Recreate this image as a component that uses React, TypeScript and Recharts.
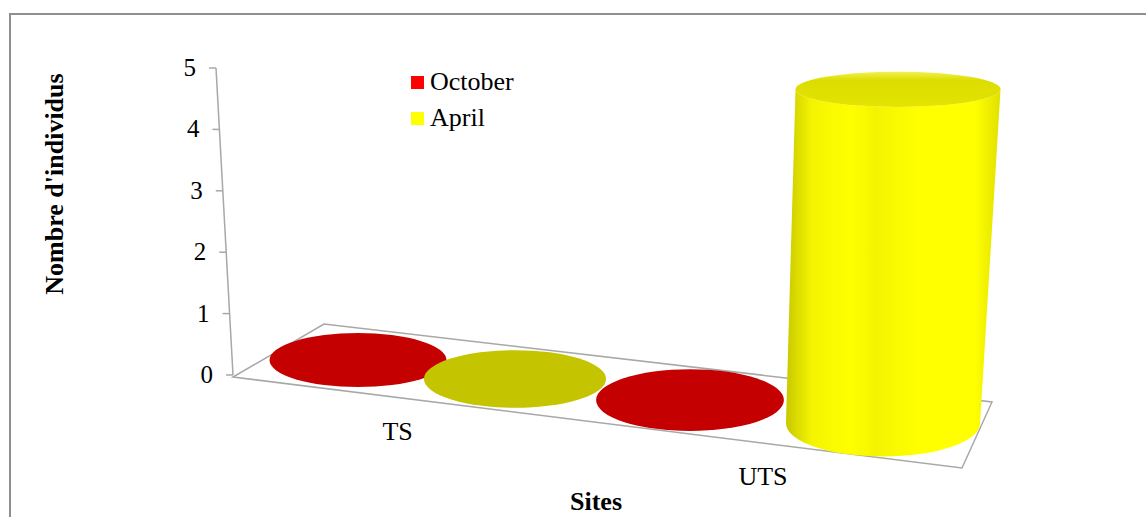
import { Bar, BarChart, Legend, XAxis, YAxis } from 'recharts'

const sites = ['TS', 'UTS']
const october = [0, 0]
const april = [0, 5]
const seriesNames = ['October', 'April'] as const
const yTicks = [0, 1, 2, 3, 4, 5]

const data = sites.map((site, i) => ({ site, October: october[i], April: april[i] }))

const Y_MAX = yTicks[yTicks.length - 1]
const FONT = '"Liberation Serif", "Times New Roman", serif'
const GRID = '#a8a8a8'

type Series = (typeof seriesNames)[number]

const COLORS: Record<Series, { legend: string; disc: string; body: string[]; top: string }> = {
  October: { legend: '#ff0000', disc: '#c40000', body: ['#a00000', '#e00000', '#c80000', '#a80000'], top: '#d00000' },
  April: { legend: '#ffff00', disc: '#c4c400', body: ['#c8c800', '#f4f400', '#ffff00', '#e0e000'], top: '#dcdc00' },
}

// fake 3D projection, tuned by eye
const FIRST_CENTER = 358
const BAR_STEP = 148
const FLOOR_LEFT = 233
const AXIS_LEAN = 17
const HEIGHT_GAIN = 1.088
const midY = (sx: number) => 345 + 0.1205 * (sx - FLOOR_LEFT)
const frontY = (sx: number) => 377 + 0.125 * (sx - FLOOR_LEFT)
const frontShift = (sx: number) => 45.5 - 0.044 * (sx - FLOOR_LEFT)
const spread = (cx: number) => {
  const t = (cx - FIRST_CENTER) / BAR_STEP
  return cx + 9 * t * t
}
// floor corners relative to the foot of the value axis
const FLOOR = [
  [0, 2],
  [91, -51],
  [759, 27],
  [729, 93],
]

interface Box {
  x: number
  y: number
  width: number
  height: number
}

function Frame({ bg }: { bg?: Box }) {
  const top = bg?.y ?? 68
  const bottom = top + (bg?.height ?? 307)
  const pts = FLOOR.map(([dx, dy]) => `${FLOOR_LEFT + dx},${bottom + dy}`).join(' ')
  return (
    <g>
      <polygon points={pts} fill="none" stroke={GRID} strokeWidth={1.5} />
      <line x1={FLOOR_LEFT} y1={bottom} x2={FLOOR_LEFT - AXIS_LEAN} y2={top} stroke={GRID} strokeWidth={1.5} />
    </g>
  )
}

interface CylProps {
  x?: number
  width?: number
  height?: number
  index?: number
  background?: Box
  series: Series
}

function Cylinder({ x = 0, width = 0, height = 0, index = 0, background, series }: CylProps) {
  const c = COLORS[series]
  const sx = spread(x + width / 2)
  const baseY = midY(sx)
  const rx = 88.5 + 0.0163 * (sx - FIRST_CENTER)
  const ry = 27 + 0.0117 * (sx - FIRST_CENTER)
  const h = Math.abs(height) * HEIGHT_GAIN
  const frame = series === 'October' && index === 0 ? <Frame bg={background} /> : null

  if (h < 1) {
    return (
      <g>
        {frame}
        <ellipse cx={sx} cy={baseY} rx={rx} ry={ry} fill={c.disc} />
      </g>
    )
  }

  const topX = sx + 0.045 * h
  const topY = baseY - h
  const rxTop = rx * (1 + 0.000168 * h)
  const ryTop = Math.max(ry * (1 - 0.0014 * h), 4)
  const id = `cyl-${series}-${index}`
  const body = [
    `M${topX - rxTop},${topY}`,
    `L${sx - rx},${baseY}`,
    `A${rx},${ry} 0 0 0 ${sx + rx},${baseY}`,
    `L${topX + rxTop},${topY}`,
    `A${rxTop},${ryTop} 0 0 1 ${topX - rxTop},${topY}`,
    'Z',
  ].join(' ')

  return (
    <g>
      {frame}
      <defs>
        <linearGradient id={`${id}-body`} x1="0" y1="0" x2="1" y2="0">
          <stop offset="0" stopColor={c.body[0]} />
          <stop offset="0.12" stopColor={c.body[1]} />
          <stop offset="0.3" stopColor={c.body[2]} />
          <stop offset="0.42" stopColor={c.body[1]} />
          <stop offset="0.62" stopColor={c.body[2]} />
          <stop offset="0.88" stopColor={c.body[2]} />
          <stop offset="1" stopColor={c.body[3]} />
        </linearGradient>
        <linearGradient id={`${id}-top`} x1="0" y1="0" x2="0" y2="1">
          <stop offset="0" stopColor="#f2f250" />
          <stop offset="0.25" stopColor={c.top} />
          <stop offset="1" stopColor="#e4e400" />
        </linearGradient>
      </defs>
      <path d={body} fill={`url(#${id}-body)`} />
      <ellipse cx={topX} cy={topY} rx={rxTop} ry={ryTop} fill={`url(#${id}-top)`} />
    </g>
  )
}

function YTick({ x = 0, y = 0, payload }: { x?: number; y?: number; payload?: { value: number } }) {
  const v = Number(payload?.value ?? 0)
  const ax = x + 1 - (AXIS_LEAN * v) / Y_MAX
  return (
    <g>
      <line x1={ax - 7} y1={y} x2={ax} y2={y} stroke={GRID} strokeWidth={1.5} />
      <text x={ax - 20} y={y + 8} textAnchor="end" fontSize={25} fontFamily={FONT} fill="#000">
        {v}
      </text>
    </g>
  )
}

function XTick({ x = 0, payload }: { x?: number; payload?: { value: string } }) {
  const sx = spread(x)
  const lx = sx - frontShift(sx)
  return (
    <text x={lx} y={frontY(lx) + 42} textAnchor="middle" fontSize={26} fontFamily={FONT} fill="#000">
      {payload?.value}
    </text>
  )
}

function LegendBox() {
  return (
    <div style={{ fontFamily: FONT, fontSize: 26, color: '#000' }}>
      {seriesNames.map((name) => (
        <div key={name} style={{ display: 'flex', alignItems: 'center', height: 36, lineHeight: '36px' }}>
          <span style={{ width: 13, height: 13, background: COLORS[name].legend, marginRight: 6 }} />
          {name}
        </div>
      ))}
    </div>
  )
}

export default function App() {
  return (
    <div style={{ position: 'absolute', left: 0, top: 0, width: 1146, height: 517, background: '#fff', overflow: 'hidden' }}>
      <div
        style={{
          position: 'absolute',
          left: 9,
          top: 13,
          width: 1140,
          height: 510,
          borderTop: '2px solid #8f8f8f',
          borderLeft: '2px solid #8f8f8f',
        }}
      />
      <div style={{ position: 'absolute', left: 0, top: 0 }}>
        <BarChart
          width={1146}
          height={517}
          data={data}
          margin={{ top: 68, right: 270, bottom: 112, left: 172 }}
          barCategoryGap={0}
          barGap={0}
        >
          <XAxis
            dataKey="site"
            height={30}
            padding={{ left: 52, right: 0 }}
            axisLine={false}
            tickLine={false}
            interval={0}
            tick={<XTick />}
          />
          <YAxis
            type="number"
            width={60}
            domain={[0, Y_MAX]}
            ticks={yTicks}
            interval={0}
            axisLine={false}
            tickLine={false}
            tickSize={0}
            tickMargin={0}
            tick={<YTick />}
          />
          <Legend
            layout="vertical"
            align="center"
            verticalAlign="middle"
            wrapperStyle={{ left: 411, top: 64, width: 150, height: 72 }}
            content={() => <LegendBox />}
          />
          {seriesNames.map((name) => (
            <Bar
              key={name}
              dataKey={name}
              isAnimationActive={false}
              shape={(p: any) => <Cylinder {...p} series={name} />}
            />
          ))}
        </BarChart>
      </div>
      <svg width={1146} height={517} style={{ position: 'absolute', left: 0, top: 0, pointerEvents: 'none' }}>
        <text
          x={63}
          y={184}
          transform="rotate(-90, 63, 184)"
          textAnchor="middle"
          fontSize={26}
          fontWeight="bold"
          fontFamily={FONT}
        >
          Nombre d'individus
        </text>
        <text x={596} y={510} textAnchor="middle" fontSize={26} fontWeight="bold" fontFamily={FONT}>
          Sites
        </text>
      </svg>
    </div>
  )
}
